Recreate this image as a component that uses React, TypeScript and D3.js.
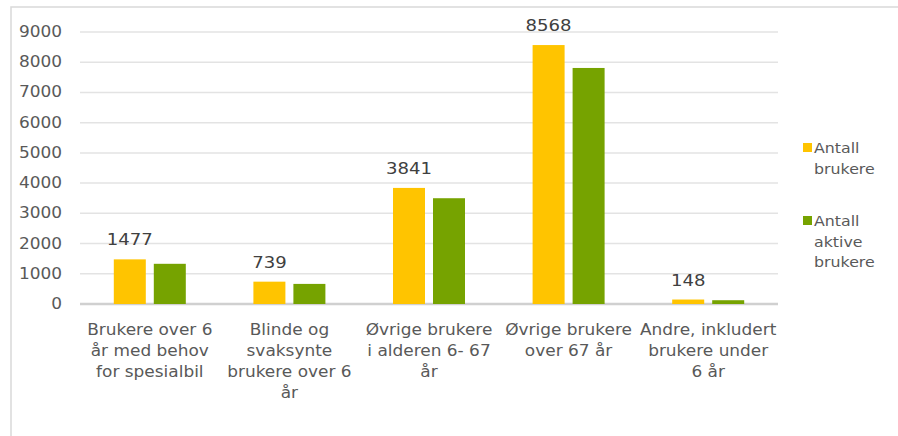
import * as d3 from "d3"

const categories = [
  "Brukere over 6 år med behov for spesialbil",
  "Blinde og svaksynte brukere over 6 år",
  "Øvrige brukere i alderen 6- 67 år",
  "Øvrige brukere over 67 år",
  "Andre, inkludert brukere under 6 år",
]
// wrapped lines as they appear under the axis
const categoryLines = [
  ["Brukere over 6", "år med behov", "for spesialbil"],
  ["Blinde og", "svaksynte", "brukere over 6", "år"],
  ["Øvrige brukere", "i alderen 6- 67", "år"],
  ["Øvrige brukere", "over 67 år"],
  ["Andre, inkludert", "brukere under", "6 år"],
]
const antallBrukere = [1477, 739, 3841, 8568, 148]
const antallAktive = [1330, 665, 3500, 7810, 125]
const seriesNames = ["Antall brukere", "Antall aktive brukere"]
const legendLines = [["Antall", "brukere"], ["Antall", "aktive", "brukere"]]
const yTicks = [0, 1000, 2000, 3000, 4000, 5000, 6000, 7000, 8000, 9000]

const COLORS = ["#FFC400", "#76A300"]
const FONT = "'DejaVu Sans', Verdana, sans-serif"
const SX = 1.13 // the source text is a bit stretched horizontally

function T(props: {
  x: number
  y: number
  size: number
  fill: string
  anchor?: "start" | "middle" | "end"
  children: any
}) {
  return (
    <text
      transform={`translate(${props.x},${props.y}) scale(${SX},1)`}
      textAnchor={props.anchor ?? "start"}
      fontSize={props.size}
      fill={props.fill}
    >
      {props.children}
    </text>
  )
}

export default function App() {
  const width = 898
  const height = 436
  const left = 80
  const right = 778
  const top = 32
  const bottom = 304

  const y = d3.scaleLinear().domain([0, 9000]).range([bottom, top])
  const x0 = d3.scaleBand<string>().domain(categories).range([left, right])
  const half = x0.bandwidth() / 2
  const x1 = d3
    .scaleBand<string>()
    .domain(seriesNames)
    .range([half - 36, half + 36])
    .paddingInner(0.2)

  const values = [antallBrukere, antallAktive]

  return (
    <svg
      width={width}
      height={height}
      style={{ position: "absolute", left: 0, top: 0, background: "#fff" }}
      fontFamily={FONT}
    >
      <rect x={11} y={7} width={width} height={height} fill="#fff" stroke="#d9d9d9" strokeWidth={1.5} />

      {/* gridlines */}
      {yTicks.map((t) => (
        <line
          key={t}
          x1={left}
          x2={right}
          y1={y(t)}
          y2={y(t)}
          stroke={t === 0 ? "#d0d0d0" : "#e3e3e3"}
          strokeWidth={t === 0 ? 2.5 : 1.5}
        />
      ))}
      {yTicks.map((t) => (
        <T key={"l" + t} x={62} y={y(t) + 5} anchor="end" size={15} fill="#595959">
          {t}
        </T>
      ))}

      {/* bars */}
      {categories.map((c, i) => (
        <g key={c} transform={`translate(${x0(c)},0)`}>
          {seriesNames.map((s, j) => (
            <rect
              key={s}
              x={x1(s)}
              y={y(values[j][i])}
              width={x1.bandwidth()}
              height={bottom - y(values[j][i])}
              fill={COLORS[j]}
            />
          ))}
          <T
            x={(x1(seriesNames[0]) ?? 0) + x1.bandwidth() / 2}
            y={y(antallBrukere[i]) - 14}
            anchor="middle"
            size={16}
            fill="#404040"
          >
            {antallBrukere[i]}
          </T>
          {categoryLines[i].map((line, k) => (
            <T key={k} x={half} y={335 + k * 21} anchor="middle" size={15} fill="#595959">
              {line}
            </T>
          ))}
        </g>
      ))}

      {/* legend */}
      {seriesNames.map((s, j) => {
        const ly = j === 0 ? 153 : 226
        return (
          <g key={s}>
            <rect x={803} y={ly - 10} width={9} height={9} fill={COLORS[j]} />
            {legendLines[j].map((line, k) => (
              <T key={k} x={814} y={ly + k * 20.5} size={14} fill="#595959">
                {line}
              </T>
            ))}
          </g>
        )
      })}
    </svg>
  )
}
